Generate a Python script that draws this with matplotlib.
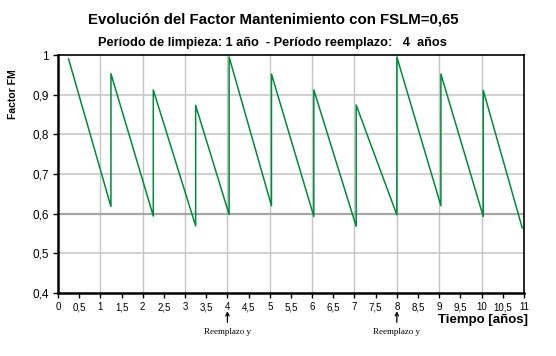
import numpy as np
import matplotlib; matplotlib.use("Agg")
import matplotlib.pyplot as plt

# sawtooth: each cleaning / replacement is a vertical jump at the same time
t_years = [0.25, 1.25, 1.25, 2.25, 2.25, 3.25, 3.25, 4.04, 4.04, 5.04, 5.04,
           6.04, 6.04, 7.04, 7.04, 8.0, 8.0, 9.04, 9.04, 10.04, 10.04, 10.96]
fm = [0.99, 0.618, 0.953, 0.594, 0.912, 0.569, 0.873, 0.598, 0.995, 0.620, 0.952,
      0.593, 0.912, 0.568, 0.874, 0.597, 0.995, 0.620, 0.952, 0.593, 0.911, 0.564]
replacements = [4, 8]
x_ticks = np.arange(0, 11.01, 0.5)
y_ticks = [0.4, 0.5, 0.6, 0.7, 0.8, 0.9, 1.0]

plt.rcParams["font.family"] = ["Liberation Sans", "DejaVu Sans"]
fig = plt.figure(figsize=(5.56, 3.56), dpi=100)
ax = fig.add_axes([0.1043, 0.177, 0.838, 0.6685])

for x in range(1, 11):
    ax.axvline(x, color="#c4c4c4", lw=1, zorder=0)
for y in y_ticks[1:-1]:
    c, w = ("#a6a6a6", 1.6) if y == 0.6 else ("#c8c8c8", 1.2)
    ax.axhline(y, color=c, lw=w, zorder=0)

ax.plot(t_years, fm, color="#00893c", lw=1.1, zorder=3)

ax.set_xlim(0, 11); ax.set_ylim(0.4, 1.0)
ax.set_xticks(x_ticks)
ax.set_xticklabels([f"{v:g}".replace(".", ",") for v in x_ticks], fontsize=7)
ax.set_yticks(y_ticks)
ax.set_yticklabels([f"{v:g}".replace(".", ",") for v in y_ticks], fontsize=8.5)
ax.tick_params(axis="both", direction="out", length=3.5, width=1, pad=3, color="black")

for s in ["left", "bottom"]:
    ax.spines[s].set_linewidth(1.8)
for s in ["top", "right"]:
    ax.spines[s].set_linewidth(1.2)

# "Reemplazo y" notes with small up arrows under the axis
for r in replacements:
    ax.text(r, 0.302, "Reemplazo y", ha="center", va="center",
            fontsize=6.5, family="Liberation Serif", clip_on=False)
    ax.annotate("", xy=(r, 0.354), xytext=(r, 0.326), xycoords="data",
                annotation_clip=False,
                arrowprops=dict(arrowstyle="->", lw=0.9, color="black",
                                mutation_scale=6, shrinkA=0, shrinkB=0))

fig.text(0.491, 0.944, "Evolución del Factor Mantenimiento con FSLM=0,65",
         ha="center", va="center", fontsize=10.8, fontweight="bold")
fig.text(0.49, 0.879, "Período de limpieza: 1 año  - Período reemplazo:   4  años",
         ha="center", va="center", fontsize=9.2, fontweight="bold")
fig.text(0.023, 0.735, "Factor FM", rotation=90, ha="center", va="center",
         fontsize=7.5, fontweight="bold")
fig.text(0.95, 0.10, "Tiempo [años]", ha="right", va="center",
         fontsize=9.5, fontweight="bold")

fig.savefig("out.png", dpi=100)
